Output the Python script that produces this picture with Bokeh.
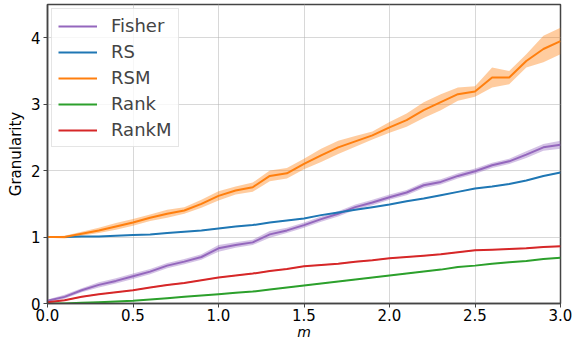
from bokeh.plotting import figure
from bokeh.embed import file_html
from bokeh.resources import INLINE
from bokeh.models import FixedTicker, Range1d, CustomJSTickFormatter
import numpy as np

m = [round(0.1 * i, 1) for i in range(31)]

fisher = [0.04, 0.10, 0.20, 0.28, 0.34, 0.41, 0.48, 0.57, 0.63, 0.70, 0.83, 0.88, 0.92, 1.04, 1.10, 1.18, 1.27, 1.35, 1.45, 1.52, 1.60, 1.67, 1.78, 1.83, 1.92, 1.99, 2.08, 2.14, 2.24, 2.35, 2.39]
fisher_sd = [0.02, 0.03, 0.03, 0.04, 0.04, 0.04, 0.04, 0.04, 0.04, 0.04, 0.05, 0.04, 0.04, 0.05, 0.04, 0.04, 0.04, 0.04, 0.04, 0.04, 0.04, 0.04, 0.04, 0.04, 0.04, 0.04, 0.04, 0.04, 0.05, 0.05, 0.06]
rs = [1.00, 1.00, 1.01, 1.01, 1.02, 1.03, 1.04, 1.06, 1.08, 1.10, 1.13, 1.16, 1.18, 1.22, 1.25, 1.28, 1.33, 1.37, 1.41, 1.45, 1.49, 1.54, 1.58, 1.63, 1.68, 1.73, 1.76, 1.80, 1.85, 1.92, 1.97]
rs_sd = [0.005] * 31
rsm = [1.00, 1.00, 1.05, 1.10, 1.16, 1.22, 1.29, 1.35, 1.40, 1.50, 1.62, 1.70, 1.75, 1.92, 1.96, 2.10, 2.23, 2.35, 2.44, 2.53, 2.65, 2.76, 2.91, 3.03, 3.15, 3.19, 3.40, 3.40, 3.65, 3.83, 3.95]
rsm_sd = [0.01, 0.02, 0.03, 0.04, 0.05, 0.05, 0.05, 0.06, 0.05, 0.06, 0.07, 0.06, 0.07, 0.08, 0.08, 0.08, 0.10, 0.10, 0.08, 0.06, 0.08, 0.10, 0.12, 0.12, 0.10, 0.08, 0.15, 0.10, 0.10, 0.20, 0.20]
rank = [0.00, 0.00, 0.01, 0.02, 0.03, 0.04, 0.06, 0.08, 0.10, 0.12, 0.14, 0.16, 0.18, 0.21, 0.24, 0.27, 0.30, 0.33, 0.36, 0.39, 0.42, 0.45, 0.48, 0.51, 0.55, 0.57, 0.60, 0.62, 0.64, 0.67, 0.69]
rank_sd = [0.005] * 31
rankm = [0.02, 0.05, 0.10, 0.14, 0.17, 0.20, 0.24, 0.28, 0.31, 0.35, 0.39, 0.42, 0.45, 0.49, 0.52, 0.56, 0.58, 0.60, 0.63, 0.65, 0.68, 0.70, 0.72, 0.74, 0.77, 0.80, 0.81, 0.82, 0.83, 0.85, 0.86]
rankm_sd = [0.008] * 31

x_ticks = [0.0, 0.5, 1.0, 1.5, 2.0, 2.5, 3.0]
y_ticks = [0, 1, 2, 3, 4]

series = [
    ("Fisher", fisher, fisher_sd, "#9467bd"),
    ("RS", rs, rs_sd, "#1f77b4"),
    ("RSM", rsm, rsm_sd, "#ff7f0e"),
    ("Rank", rank, rank_sd, "#2ca02c"),
    ("RankM", rankm, rankm_sd, "#d62728"),
]

p = figure(frame_width=513, frame_height=299, output_backend="svg", toolbar_location=None,
           x_range=Range1d(0, 3.0), y_range=Range1d(0, 4.5),
           min_border_left=47, min_border_top=4, min_border_right=14, min_border_bottom=30)
p.background_fill_color = "white"
p.border_fill_color = "white"

for name, y, sd, col in series:
    ya = np.array(y); sa = np.array(sd)
    p.varea(x=m, y1=list(ya - sa), y2=list(ya + sa), fill_color=col, fill_alpha=0.4)
for name, y, sd, col in series:
    p.line(m, y, line_color=col, line_width=2, legend_label=name)

p.xaxis.ticker = FixedTicker(ticks=x_ticks)
p.yaxis.ticker = FixedTicker(ticks=y_ticks)
p.xaxis.formatter = CustomJSTickFormatter(code="return tick.toFixed(1);")
p.xaxis.minor_tick_line_color = None
p.yaxis.minor_tick_line_color = None
for ax in (p.xaxis[0], p.yaxis[0]):
    ax.major_label_text_font = "DejaVu Sans"
    ax.major_label_text_font_size = "15px"
    ax.major_label_text_color = "black"
    ax.axis_label_text_font = "DejaVu Sans"
    ax.axis_label_text_font_size = "15px"
    ax.axis_label_text_color = "black"
    ax.axis_line_color = "#444444"
    ax.axis_line_width = 1.5
    ax.major_tick_line_color = "#444444"
    ax.major_tick_out = 4
    ax.major_tick_in = 0
    ax.axis_label_standoff = 3
    ax.major_label_standoff = 3
p.xaxis.axis_label_standoff = 0
p.xaxis.major_label_standoff = 1
p.xaxis.axis_label_text_font_size = "14px"
p.xaxis.axis_label = "m"
p.xaxis.axis_label_text_font_style = "italic"
p.yaxis.axis_label = "Granularity"
p.yaxis.axis_label_text_font_style = "normal"

p.grid.grid_line_color = "#b0b0b0"
p.grid.grid_line_dash = "1 1"
p.grid.grid_line_width = 1
p.outline_line_color = "#444444"
p.outline_line_width = 1.5

p.legend.location = "top_left"
p.legend.label_text_font = "DejaVu Sans"
p.legend.label_text_font_size = "18px"
p.legend.glyph_width = 39
p.legend.label_standoff = 14
p.legend.spacing = 5
p.legend.padding = 6
p.legend.margin = 4
p.legend.border_line_color = "#cccccc"
p.legend.background_fill_alpha = 0.8

open("out.html", "w").write(file_html(p, INLINE))
